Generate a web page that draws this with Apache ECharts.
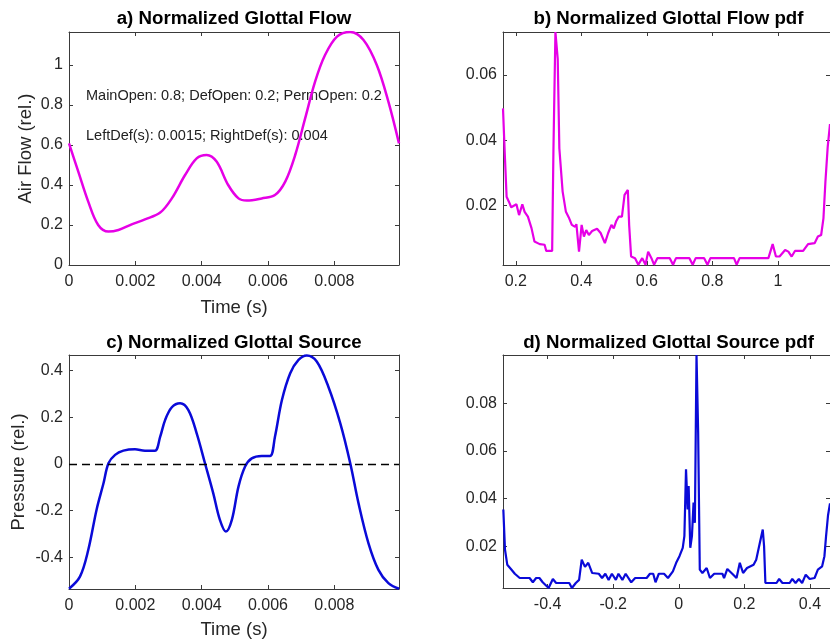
<!DOCTYPE html>
<html><head><meta charset="utf-8">
<script src="https://cdn.jsdelivr.net/npm/echarts@6/dist/echarts.min.js"></script>
<style>html,body{margin:0;padding:0;background:#fff}#c{width:830px;height:644px}</style>
</head><body><div id="c"></div>
<script>
// ---------- data ----------
const flowTime = [0, 0.00028, 0.00058, 0.00088, 0.00119, 0.00149, 0.00189, 0.00229, 0.00275, 0.00310, 0.00350, 0.00385, 0.00415, 0.00445, 0.00480, 0.00511, 0.00536, 0.00581, 0.00621, 0.00652, 0.00682, 0.00712, 0.00742, 0.00772, 0.00808, 0.00848, 0.00888, 0.00928, 0.00963, 0.00995];
const flowValues = [0.608, 0.467, 0.317, 0.200, 0.167, 0.175, 0.203, 0.228, 0.262, 0.333, 0.450, 0.533, 0.550, 0.517, 0.400, 0.333, 0.322, 0.333, 0.350, 0.417, 0.550, 0.733, 0.917, 1.050, 1.142, 1.165, 1.125, 1.000, 0.817, 0.608];

const sourceTime = [0, 0.00033, 0.00058, 0.00083, 0.00104, 0.00119, 0.00139, 0.00164, 0.00199, 0.00229, 0.00259, 0.00275, 0.00290, 0.00310, 0.00335, 0.00360, 0.00385, 0.00410, 0.00435, 0.00455, 0.00473, 0.00491, 0.00511, 0.00531, 0.00551, 0.00581, 0.00606, 0.00621, 0.00642, 0.00667, 0.00692, 0.00717, 0.00747, 0.00782, 0.00818, 0.00848, 0.00873, 0.00903, 0.00933, 0.00963, 0.00995];
const sourceValues = [-0.535, -0.483, -0.369, -0.197, -0.083, 0.003, 0.039, 0.057, 0.063, 0.057, 0.057, 0.117, 0.189, 0.243, 0.260, 0.231, 0.131, 0.003, -0.126, -0.240, -0.290, -0.240, -0.097, -0.011, 0.024, 0.034, 0.034, 0.117, 0.274, 0.389, 0.446, 0.465, 0.439, 0.331, 0.174, 0.003, -0.169, -0.340, -0.454, -0.511, -0.535];

const flowPdfX = [0.161, 0.164, 0.167, 0.172, 0.179, 0.186, 0.192, 0.202, 0.210, 0.220, 0.227, 0.237, 0.248, 0.257, 0.273, 0.288, 0.293, 0.311, 0.315, 0.321, 0.328, 0.333, 0.343, 0.353, 0.363, 0.371, 0.381, 0.385, 0.393, 0.401, 0.408, 0.415, 0.423, 0.433, 0.448, 0.459, 0.472, 0.482, 0.492, 0.499, 0.506, 0.514, 0.524, 0.532, 0.542, 0.546, 0.552, 0.564, 0.574, 0.586, 0.596, 0.604, 0.614, 0.622, 0.632, 0.670, 0.680, 0.689, 0.730, 0.740, 0.749, 0.775, 0.785, 0.794, 0.866, 0.874, 0.883, 0.971, 0.984, 0.994, 1.005, 1.022, 1.032, 1.042, 1.052, 1.077, 1.092, 1.112, 1.122, 1.132, 1.139, 1.145, 1.152, 1.159];
const flowPdfY = [0.0498, 0.0420, 0.0345, 0.0227, 0.0212, 0.0195, 0.0192, 0.0204, 0.0171, 0.0204, 0.0181, 0.0166, 0.0131, 0.0090, 0.0082, 0.0080, 0.0061, 0.0061, 0.0375, 0.0732, 0.0650, 0.0375, 0.0243, 0.0181, 0.0161, 0.0141, 0.0135, 0.0143, 0.0059, 0.0141, 0.0105, 0.0125, 0.0110, 0.0122, 0.0129, 0.0116, 0.0085, 0.0116, 0.0141, 0.0130, 0.0151, 0.0166, 0.0166, 0.0233, 0.0248, 0.0141, 0.0044, 0.0039, 0.0019, 0.0039, 0.0019, 0.0059, 0.0039, 0.0019, 0.0039, 0.0039, 0.0019, 0.0039, 0.0039, 0.0019, 0.0039, 0.0039, 0.0019, 0.0039, 0.0039, 0.0019, 0.0039, 0.0039, 0.0082, 0.0044, 0.0044, 0.0064, 0.0059, 0.0044, 0.0061, 0.0061, 0.0082, 0.0085, 0.0105, 0.0110, 0.0161, 0.0273, 0.0380, 0.0450];

const sourcePdfX = [-0.535, -0.530, -0.523, -0.510, -0.500, -0.485, -0.455, -0.445, -0.435, -0.425, -0.415, -0.397, -0.384, -0.374, -0.334, -0.326, -0.314, -0.304, -0.296, -0.286, -0.276, -0.264, -0.244, -0.234, -0.224, -0.214, -0.204, -0.192, -0.184, -0.172, -0.162, -0.145, -0.133, -0.098, -0.088, -0.078, -0.071, -0.061, -0.045, -0.033, -0.018, -0.008, 0.002, 0.012, 0.017, 0.022, 0.027, 0.030, 0.035, 0.040, 0.045, 0.049, 0.054, 0.059, 0.064, 0.072, 0.085, 0.095, 0.108, 0.133, 0.138, 0.148, 0.163, 0.176, 0.186, 0.196, 0.208, 0.228, 0.236, 0.246, 0.256, 0.260, 0.264, 0.298, 0.306, 0.316, 0.338, 0.346, 0.356, 0.366, 0.376, 0.387, 0.399, 0.414, 0.424, 0.437, 0.444, 0.449, 0.455, 0.461];
const sourcePdfY = [0.0354, 0.0186, 0.0122, 0.0101, 0.0084, 0.0066, 0.0066, 0.0048, 0.0066, 0.0066, 0.0048, 0.0024, 0.0062, 0.0045, 0.0045, 0.0024, 0.0045, 0.0058, 0.0143, 0.0113, 0.0130, 0.0087, 0.0084, 0.0066, 0.0084, 0.0058, 0.0084, 0.0058, 0.0084, 0.0058, 0.0084, 0.0048, 0.0066, 0.0066, 0.0084, 0.0084, 0.0048, 0.0084, 0.0084, 0.0066, 0.0094, 0.0130, 0.0158, 0.0193, 0.0242, 0.0523, 0.0354, 0.0453, 0.0193, 0.0242, 0.0383, 0.0298, 0.1004, 0.0678, 0.0101, 0.0087, 0.0108, 0.0066, 0.0084, 0.0084, 0.0066, 0.0104, 0.0084, 0.0066, 0.0130, 0.0087, 0.0108, 0.0122, 0.0143, 0.0207, 0.0270, 0.0200, 0.0045, 0.0045, 0.0062, 0.0045, 0.0045, 0.0062, 0.0045, 0.0062, 0.0045, 0.0080, 0.0062, 0.0066, 0.0101, 0.0115, 0.0158, 0.0242, 0.0330, 0.0380];

const timeTicks = [0, 0.002, 0.004, 0.006, 0.008];
const flowTicks = [0, 0.2, 0.4, 0.6, 0.8, 1];
const sourceTicks = [-0.4, -0.2, 0, 0.2, 0.4];
const flowPdfXTicks = [0.2, 0.4, 0.6, 0.8, 1];
const flowPdfYTicks = [0.02, 0.04, 0.06];
const sourcePdfXTicks = [-0.4, -0.2, 0, 0.2, 0.4];
const sourcePdfYTicks = [0.02, 0.04, 0.06, 0.08];

const titles = ['a) Normalized Glottal Flow', 'b) Normalized Glottal Flow pdf', 'c) Normalized Glottal Source', 'd) Normalized Glottal Source pdf'];
const annotations = ['MainOpen: 0.8; DefOpen: 0.2; PermOpen: 0.2', 'LeftDef(s): 0.0015; RightDef(s): 0.004'];

// ---------- styling / layout ----------
const FONT = "'Liberation Sans', Arial, Helvetica, sans-serif";
const TXT = '#262626';
const AXL = '#3a3a3a';
const MAG = '#e600e6';
const BLU = '#0a0ad8';

const grids = [
  {left: 69, top: 32, width: 330, height: 233},
  {left: 503, top: 32, width: 331, height: 233},
  {left: 69, top: 355, width: 330, height: 234},
  {left: 503, top: 355, width: 331, height: 233}
];

function fmt(v) { return String(parseFloat(Number(v).toFixed(6))); }
const zip = (a, b) => a.map((x, i) => [x, b[i]]);

const xAxes = [], yAxes = [];
function addX(gi, min, max, ticks, name, gap) {
  const base = {type: 'value', gridIndex: gi, min: min, max: max, splitLine: {show: false},
    axisLine: {show: true, onZero: false, lineStyle: {color: AXL, width: 1}},
    axisTick: {show: true, inside: true, length: 4, customValues: ticks, lineStyle: {color: AXL}}};
  xAxes.push(Object.assign({}, base, {position: 'bottom',
    axisLabel: {show: true, customValues: ticks, formatter: fmt, margin: 9, color: TXT, fontSize: 16, fontFamily: FONT},
    name: name || '', nameLocation: 'middle', nameGap: gap || 0,
    nameTextStyle: {color: TXT, fontSize: 18.5, fontFamily: FONT}}));
  xAxes.push(Object.assign({}, base, {position: 'top', axisLabel: {show: false}}));
}
function addY(gi, min, max, ticks, name, gap) {
  const base = {type: 'value', gridIndex: gi, min: min, max: max, splitLine: {show: false},
    axisLine: {show: true, onZero: false, lineStyle: {color: AXL, width: 1}},
    axisTick: {show: true, inside: true, length: 4, customValues: ticks, lineStyle: {color: AXL}}};
  yAxes.push(Object.assign({}, base, {position: 'left',
    axisLabel: {show: true, customValues: ticks, formatter: fmt, margin: 6, color: TXT, fontSize: 16, fontFamily: FONT},
    name: name || '', nameLocation: 'middle', nameGap: gap || 0,
    nameTextStyle: {color: TXT, fontSize: 18.5, fontFamily: FONT}}));
  yAxes.push(Object.assign({}, base, {position: 'right', axisLabel: {show: false}}));
}

addX(0, 0, 0.00995, timeTicks, 'Time (s)', 33);
addY(0, 0, 1.165, flowTicks, 'Air Flow (rel.)', 34);
addX(1, 0.161, 1.159, flowPdfXTicks);
addY(1, 0.0018, 0.0732, flowPdfYTicks);
addX(2, 0, 0.00995, timeTicks, 'Time (s)', 31);
addY(2, -0.536, 0.467, sourceTicks, 'Pressure (rel.)', 41);
addX(3, -0.536, 0.461, sourcePdfXTicks);
addY(3, 0.0024, 0.1004, sourcePdfYTicks);

const lineBase = {type: 'line', showSymbol: false, symbol: 'none', animation: false, silent: true};

const option = {
  animation: false,
  backgroundColor: '#ffffff',
  grid: grids,
  xAxis: xAxes,
  yAxis: yAxes,
  series: [
    Object.assign({}, lineBase, {name: 'flow', xAxisIndex: 0, yAxisIndex: 0, data: zip(flowTime, flowValues), smooth: 0.35, lineStyle: {color: MAG, width: 2.5}}),
    Object.assign({}, lineBase, {name: 'flowPdf', xAxisIndex: 2, yAxisIndex: 2, data: zip(flowPdfX, flowPdfY), lineStyle: {color: MAG, width: 2.2}}),
    Object.assign({}, lineBase, {name: 'source', xAxisIndex: 4, yAxisIndex: 4, data: zip(sourceTime, sourceValues), smooth: 0.35, lineStyle: {color: BLU, width: 2.5},
      markLine: {silent: true, symbol: ['none', 'none'], label: {show: false}, animation: false,
        lineStyle: {type: [8, 5], color: '#000000', width: 1.4}, data: [{yAxis: 0}]}}),
    Object.assign({}, lineBase, {name: 'sourcePdf', xAxisIndex: 6, yAxisIndex: 6, data: zip(sourcePdfX, sourcePdfY), lineStyle: {color: BLU, width: 2.2}})
  ],
  graphic: [
    {type: 'text', x: 234, y: 19, style: {text: titles[0], fill: '#000', fontSize: 18.7, fontWeight: 'bold', fontFamily: FONT, align: 'center', verticalAlign: 'middle'}},
    {type: 'text', x: 668.5, y: 19, style: {text: titles[1], fill: '#000', fontSize: 18.7, fontWeight: 'bold', fontFamily: FONT, align: 'center', verticalAlign: 'middle'}},
    {type: 'text', x: 234, y: 342.5, style: {text: titles[2], fill: '#000', fontSize: 18.7, fontWeight: 'bold', fontFamily: FONT, align: 'center', verticalAlign: 'middle'}},
    {type: 'text', x: 668.5, y: 342.5, style: {text: titles[3], fill: '#000', fontSize: 18.7, fontWeight: 'bold', fontFamily: FONT, align: 'center', verticalAlign: 'middle'}},
    {type: 'text', x: 86, y: 96, style: {text: annotations[0], fill: '#222', fontSize: 14.5, fontFamily: FONT, align: 'left', verticalAlign: 'middle'}},
    {type: 'text', x: 86, y: 136, style: {text: annotations[1], fill: '#222', fontSize: 14.5, fontFamily: FONT, align: 'left', verticalAlign: 'middle'}}
  ]
};

const chart = echarts.init(document.getElementById('c'), null, {renderer: 'canvas'});
chart.setOption(option);
</script></body></html>
